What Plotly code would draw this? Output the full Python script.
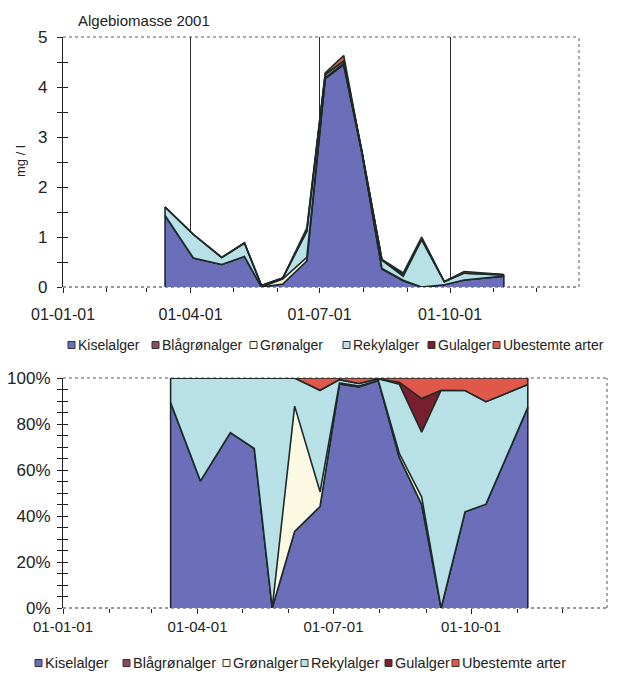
import plotly.graph_objects as go

# ---------------- data ----------------
dates = ["2001-03-14", "2001-04-03", "2001-04-23", "2001-05-09", "2001-05-21",
         "2001-06-05", "2001-06-22", "2001-07-05", "2001-07-18", "2001-07-31",
         "2001-08-14", "2001-08-29", "2001-09-11", "2001-09-27", "2001-10-11",
         "2001-11-08"]
kiselalger = [1.43, 0.58, 0.45, 0.61, 0.00, 0.06, 0.52, 4.17, 4.45, 2.67,
              0.36, 0.126, 0.00, 0.046, 0.14, 0.218]
blagronalger = [0, 0, 0, 0, 0, 0, 0, 0, 0, 0, 0, 0, 0, 0, 0, 0]
gronalger = [0, 0, 0, 0, 0, 0.098, 0.075, 0.02, 0.02, 0, 0.01, 0.009, 0, 0, 0, 0]
rekylalger = [0.17, 0.47, 0.14, 0.27, 0.03, 0.022, 0.52, 0.06, 0.05, 0.02,
              0.165, 0.079, 0.947, 0.058, 0.138, 0.025]
gulalger = [0, 0, 0, 0, 0, 0, 0, 0, 0, 0, 0.005, 0.041, 0, 0, 0, 0]
ubestemte = [0, 0, 0, 0, 0, 0, 0.063, 0.03, 0.11, 0.01, 0.01, 0.025, 0.053,
             0.006, 0.032, 0.007]

series_names = ["Kiselalger", "Blågrønalger", "Grønalger", "Rekylalger",
                "Gulalger", "Ubestemte arter"]
series_values = [kiselalger, blagronalger, gronalger, rekylalger, gulalger, ubestemte]
series_colors = ["#6b6eb8", "#8c4a62", "#fcf9e2", "#b7e0e7", "#7a1f2e", "#e0584a"]

title_text = "Algebiomasse 2001"
y_title = "mg / l"

# ---------------- styling ----------------
FONT = "Liberation Sans, Arial, sans-serif"
EDGE = "#1d2a27"
LW = 1.6
W, H = 623, 675

def px_x(x):
    return x / W

def px_y(y):
    return 1 - y / H

fig = go.Figure()

totals = [sum(v[i] for v in series_values) for i in range(len(dates))]

for name, vals, col in zip(series_names, series_values, series_colors):
    fig.add_trace(go.Scatter(
        x=dates, y=vals, name=name, mode="lines", stackgroup="top",
        line=dict(color=EDGE, width=LW), fillcolor=col,
        showlegend=False, xaxis="x", yaxis="y", hoverinfo="skip"))
fig.add_trace(go.Scatter(
    x=[dates[0], dates[0], None, dates[-1], dates[-1]],
    y=[0, totals[0], None, 0, totals[-1]],
    mode="lines", line=dict(color=EDGE, width=LW), showlegend=False,
    xaxis="x", yaxis="y", hoverinfo="skip"))

for name, vals, col in zip(series_names, series_values, series_colors):
    fig.add_trace(go.Scatter(
        x=dates, y=vals, name=name, mode="lines", stackgroup="bot",
        groupnorm="percent",
        line=dict(color=EDGE, width=LW), fillcolor=col,
        showlegend=False, xaxis="x2", yaxis="y2", hoverinfo="skip"))
fig.add_trace(go.Scatter(
    x=[dates[0], dates[0], None, dates[-1], dates[-1]],
    y=[0, 100, None, 0, 100],
    mode="lines", line=dict(color=EDGE, width=LW), showlegend=False,
    xaxis="x2", yaxis="y2", hoverinfo="skip"))

fig.add_trace(go.Scatter(x=[None], y=[None], xaxis="x", yaxis="y3", showlegend=False))
fig.add_trace(go.Scatter(x=[None], y=[None], xaxis="x2", yaxis="y4", showlegend=False))

xr = ["2001-01-01", "2001-12-31"]
top_dom_x = [px_x(63), px_x(579)]
top_dom_y = [px_y(287), px_y(37)]
bot_dom_x = [px_x(63), px_x(607)]
bot_dom_y = [px_y(608), px_y(378)]

common_x = dict(type="date", range=xr, dtick="M3", tick0="2001-01-01",
                tickformat="%d-%m-%y", ticks="outside", ticklen=5,
                tickcolor="#222", showline=False, zeroline=False, automargin=False,
                minor=dict(dtick="M1", ticks="outside", ticklen=4, tickcolor="#222"))

fig.update_layout(
    width=W, height=H, autosize=False,
    margin=dict(l=0, r=0, t=0, b=0, pad=0),
    paper_bgcolor="white", plot_bgcolor="white",
    font=dict(family=FONT, color="#222"),
    xaxis=dict(domain=top_dom_x, anchor="y", showgrid=True, gridcolor="#2a2a2a",
               gridwidth=1, tickfont=dict(size=16), ticklabelstandoff=8,
               **common_x),
    yaxis=dict(domain=top_dom_y, anchor="x", range=[0, 5], dtick=1,
               ticks="outside", ticklen=5, tickcolor="#222", showgrid=False,
               zeroline=False, showline=True, linecolor="#222", linewidth=1.2,
               tickfont=dict(size=17), ticklabelstandoff=6, automargin=False,
               minor=dict(dtick=0.5, ticks="outside", ticklen=5, tickcolor="#222")),
    yaxis3=dict(overlaying="y", anchor="x", range=[0, 5], dtick=1, side="left",
                ticks="inside", ticklen=5, tickcolor="#222", showgrid=False,
                zeroline=False, showline=False, showticklabels=False, automargin=False,
                minor=dict(dtick=0.5, ticks="inside", ticklen=5, tickcolor="#222")),
    xaxis2=dict(domain=bot_dom_x, anchor="y2", showgrid=False,
                tickfont=dict(size=15), ticklabelstandoff=0, **common_x),
    yaxis2=dict(domain=bot_dom_y, anchor="x2", range=[0, 100], dtick=20,
                ticksuffix="%", ticks="outside", ticklen=5, tickcolor="#222",
                showgrid=False, zeroline=False, showline=True, linecolor="#222",
                linewidth=1.2, tickfont=dict(size=17), ticklabelstandoff=3,
                automargin=False,
                minor=dict(dtick=5, ticks="outside", ticklen=5, tickcolor="#222")),
    yaxis4=dict(overlaying="y2", anchor="x2", range=[0, 100], dtick=20, side="left",
                ticks="inside", ticklen=5, tickcolor="#222", showgrid=False,
                zeroline=False, showline=False, showticklabels=False, automargin=False,
                minor=dict(dtick=5, ticks="inside", ticklen=5, tickcolor="#222")),
)

shapes = []
for xref, yref in (("x domain", "y domain"), ("x2 domain", "y2 domain")):
    bl = dict(color="#555", width=1, dash="dot")
    shapes.append(dict(type="line", xref=xref, yref=yref, x0=0, x1=1, y0=1, y1=1, line=bl, layer="below"))
    shapes.append(dict(type="line", xref=xref, yref=yref, x0=1, x1=1, y0=0, y1=1, line=bl, layer="below"))
    shapes.append(dict(type="line", xref=xref, yref=yref, x0=0, x1=1, y0=0, y1=0,
                       line=dict(color="#333", width=1.2, dash="dot"), layer="below"))

annotations = [
    dict(text=title_text, xref="paper", yref="paper", x=px_x(76), y=px_y(20),
         xanchor="left", yanchor="middle", showarrow=False, font=dict(size=15)),
    dict(text=y_title, xref="paper", yref="paper", x=px_x(20), y=px_y(161),
         xanchor="center", yanchor="middle", textangle=-90, showarrow=False,
         font=dict(size=13)),
]

top_sq = [68, 152, 250, 343, 428, 493]
bot_sq = [35, 123, 223, 301, 385, 452]
for sqs, yc, fs in ((top_sq, 345, 14), (bot_sq, 663, 14.5)):
    for sx, name, col in zip(sqs, series_names, series_colors):
        shapes.append(dict(type="rect", xref="paper", yref="paper",
                           x0=px_x(sx), x1=px_x(sx + 7), y0=px_y(yc + 3.5), y1=px_y(yc - 3.5),
                           fillcolor=col, line=dict(color="#333", width=1)))
        annotations.append(dict(text=name, xref="paper", yref="paper",
                                x=px_x(sx + 8), y=px_y(yc), xanchor="left",
                                yanchor="middle", showarrow=False,
                                font=dict(size=fs)))

fig.update_layout(shapes=shapes, annotations=annotations)

fig.write_html("out.html")
